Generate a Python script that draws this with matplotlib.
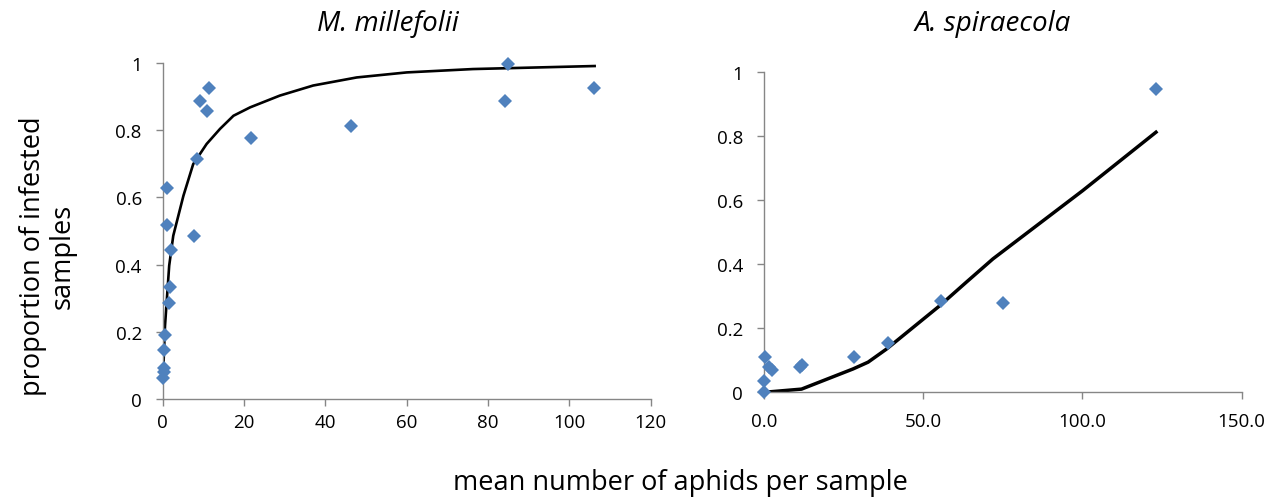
import matplotlib
matplotlib.use("Agg")
import matplotlib.pyplot as plt
from matplotlib.ticker import FormatStrFormatter

plt.rcParams['font.family'] = ['Open Sans', 'DejaVu Sans']

# M. millefolii: observed proportions vs mean aphid density
mm_x = [85.0, 84.1, 106.0, 46.4, 21.7, 11.3, 9.2, 11.0, 8.5, 7.7,
        1.1, 1.0, 2.0, 1.8, 1.6, 0.5, 0.3, 0.2, 0.2, 0.1]
mm_y = [0.998, 0.887, 0.925, 0.813, 0.777, 0.925, 0.888, 0.856, 0.714, 0.484,
        0.629, 0.518, 0.444, 0.333, 0.286, 0.190, 0.145, 0.093, 0.079, 0.062]
# fitted model
mm_fit_x = [0.15, 0.57, 1.6, 2.6, 5.1, 7.5, 10.8, 14.1, 17.4, 21.5,
            28.8, 37.0, 47.7, 60.0, 76.3, 106.2]
mm_fit_y = [0.089, 0.218, 0.397, 0.486, 0.605, 0.699, 0.759, 0.804, 0.843, 0.868,
            0.903, 0.933, 0.957, 0.972, 0.982, 0.991]

# A. spiraecola
as_x = [123.1, 75.0, 55.7, 38.8, 28.3, 11.3, 11.9, 0.3, 1.7, 2.6, 0.0, 0.0]
as_y = [0.946, 0.278, 0.284, 0.154, 0.110, 0.078, 0.085, 0.109, 0.078, 0.071, 0.036, 0.0]
as_fit_x = [0.0, 11.8, 28.0, 32.7, 38.5, 55.2, 63.5, 71.9, 100.1, 123.1]
as_fit_y = [0.0, 0.010, 0.073, 0.094, 0.135, 0.270, 0.343, 0.416, 0.629, 0.811]

blue = '#4F81BD'
grey = '#868686'

fig = plt.figure(figsize=(12.79, 5.02), dpi=100)
ax1 = fig.add_axes([0.1272, 0.2032, 0.3816, 0.6693])
ax2 = fig.add_axes([0.5973, 0.2165, 0.3735, 0.6389])


def style(ax):
    for s in ['top', 'right']:
        ax.spines[s].set_visible(False)
    for s in ['left', 'bottom']:
        ax.spines[s].set_color(grey)
        ax.spines[s].set_linewidth(1.0)
    ax.tick_params(colors=grey, labelcolor='black', labelsize=13.5,
                   length=5, width=1.0, direction='out')
    ax.set_ylim(0, 1)
    ax.set_yticks([0, 0.2, 0.4, 0.6, 0.8, 1])
    ax.set_yticklabels(['0', '0.2', '0.4', '0.6', '0.8', '1'])
    ax.tick_params(axis='y', pad=10)


style(ax1)
ax1.plot(mm_fit_x, mm_fit_y, color='black', lw=1.9, zorder=2)
ax1.plot(mm_x, mm_y, 'D', color=blue, ms=6.8, mew=0, zorder=3, clip_on=False)
ax1.set_xlim(0, 120)
ax1.set_xticks(range(0, 121, 20))
ax1.tick_params(axis='x', pad=5)

style(ax2)
ax2.plot(as_fit_x, as_fit_y, color='black', lw=2.5, zorder=2)
ax2.plot(as_x, as_y, 'D', color=blue, ms=6.8, mew=0, zorder=3, clip_on=False)
ax2.set_xlim(0, 150)
ax2.set_xticks([0, 50, 100, 150])
ax2.xaxis.set_major_formatter(FormatStrFormatter('%.1f'))
ax2.tick_params(axis='x', pad=9)

fig.text(388 / 1279, 1 - 24 / 502, 'M. millefolii', style='italic',
         fontsize=20, ha='center', va='center')
fig.text(993 / 1279, 1 - 24 / 502, 'A. spiraecola', style='italic',
         fontsize=20, ha='center', va='center')
fig.text(680 / 1279, 1 - 483 / 502, 'mean number of aphids per sample',
         fontsize=19.5, ha='center', va='center')
fig.text(48 / 1279, 1 - 256 / 502, 'proportion of infested\nsamples',
         fontsize=19.5, ha='center', va='center', rotation=90,
         multialignment='center', linespacing=1.05)

fig.savefig('out.png', dpi=100)
